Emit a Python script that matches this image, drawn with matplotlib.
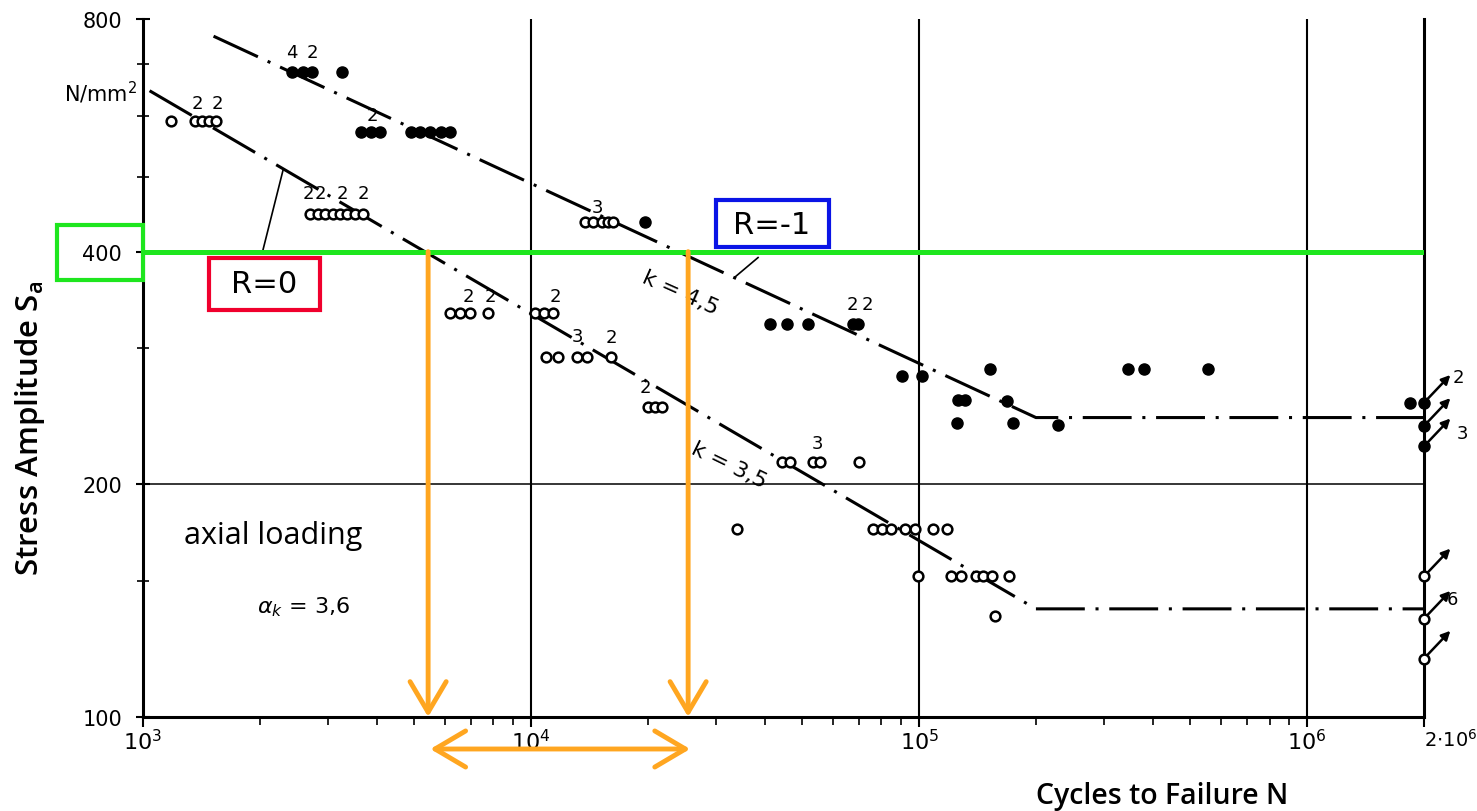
import numpy as np
import matplotlib.pyplot as plt
from matplotlib.patches import Rectangle
from matplotlib.transforms import offset_copy
from matplotlib.ticker import FixedLocator, NullFormatter

#===== data (N cycles, Sa in N/mm2)
# R=-1, broken (filled)
n_fill = [2420, 2590, 2730, 3260,
          3650, 3870, 4090, 4910, 5180, 5490, 5870, 6180,
          19700,
          41300, 45700, 51800, 67600, 69600,
          90400, 101800,
          152400, 345700, 380600, 555600,
          126000, 131400, 168700,
          125300, 174600, 228100,
          1840000]
s_fill = [683, 683, 683, 683,
          571, 571, 571, 571, 571, 571, 571, 571,
          437,
          322, 322, 322, 322, 322,
          276, 276,
          282, 282, 282, 282,
          257, 257, 256,
          240, 240, 239,
          255]

# group drawn hollow on the R=-1 line (label 3)
n_hollow_m1 = [13780, 14480, 15250, 15770, 16270]
s_hollow_m1 = [437, 437, 437, 437, 437]

# R=0, broken (open)
n_open = [1181, 1362, 1419, 1480, 1542,
          2694, 2825, 2944, 3089, 3222, 3358, 3519, 3687,
          6190, 6560, 6960, 7740,
          10230, 10810, 11400,
          10930, 11740, 13140, 13940, 16060,
          20020, 20880, 21780,
          44360, 46560, 53350, 55640, 70000,
          33970,
          76100, 80300, 84800, 92100, 97700, 108700, 118100,
          99400, 120800, 128200, 140300, 146400, 154300, 170500,
          157000]
s_open = [591, 591, 591, 591, 591,
          447, 447, 447, 447, 447, 447, 447, 447,
          333, 333, 333, 333,
          333, 333, 333,
          292, 292, 292, 292, 292,
          252, 252, 252,
          214, 214, 214, 214, 214,
          175,
          175, 175, 175, 175, 175, 175, 175,
          152, 152, 152, 152, 152, 152, 152,
          135]

# run-outs at 2e6
n_runout = 2.0e6
s_runout_fill = [255, 238, 224]
s_runout_open = [152, 134, 119]

# S-N curves
n_curve_m1 = [1520, 2.0e5, 2.0e6]
s_curve_m1 = [760, 244, 244]
n_curve_0 = [1040, 2.0e5, 2.0e6]
s_curve_0 = [646, 138, 138]

# small count labels (text, N, S)
count_labels = [('4', 2421, 725), ('2', 2727, 725), ('2', 3892, 601),
                ('3', 14800, 457), ('2', 67200, 342), ('2', 73500, 342),
                ('2', 1378, 623), ('2', 1551, 623),
                ('2', 2662, 477), ('2', 2860, 477), ('2', 3257, 477), ('2', 3690, 477),
                ('2', 6880, 351), ('2', 7840, 351), ('2', 11530, 351),
                ('3', 13140, 311), ('2', 16080, 310), ('2', 19670, 267),
                ('3', 54600, 226),
                ('2', 2.45e6, 275), ('3', 2.51e6, 233), ('6', 2.37e6, 142)]

# highlighted reading
s_level = 400
n_read_0 = 5430
n_read_m1 = 25400

x_ticks = [1e3, 1e4, 1e5, 1e6, 2e6]
x_ticklabels = ['$10^3$', '$10^4$', '$10^5$', '$10^6$', r'$2{\cdot}10^6$']
y_ticks = [100, 200, 400, 800]
y_minor = [150, 300, 500, 600, 700]

orange = '#FFA620'
green = '#1EE61E'
red = '#F0002D'
blue = '#0A14E6'

#===== figure
fig = plt.figure(figsize=(14.77, 8.12), dpi=100)
ax = fig.add_axes([0.0968, 0.1158, 0.8673, 0.8596])
ax.set_xscale('log')
ax.set_yscale('log')
ax.set_xlim(1e3, 2e6)
ax.set_ylim(100, 800)

for side in ['left', 'bottom', 'right']:
    ax.spines[side].set_linewidth(2.2)
ax.spines['top'].set_visible(False)

# grid lines of the original sheet
for xv in [1e4, 1e5, 1e6]:
    ax.axvline(xv, color='k', lw=1.5, zorder=1)
ax.axhline(200, color='k', lw=1.1, zorder=1)
ax.axhline(400, color='k', lw=1.1, zorder=1)

ax.xaxis.set_major_locator(FixedLocator(x_ticks))
ax.xaxis.set_minor_locator(FixedLocator([k * 10.0**e for e in [3, 4, 5] for k in range(2, 10)]))
ax.xaxis.set_minor_formatter(NullFormatter())
ax.set_xticklabels(x_ticklabels)
ax.yaxis.set_major_locator(FixedLocator(y_ticks))
ax.yaxis.set_minor_locator(FixedLocator(y_minor))
ax.yaxis.set_minor_formatter(NullFormatter())
ax.set_yticklabels([str(v) for v in y_ticks])
ax.tick_params(axis='x', which='major', direction='out', length=7, width=1.5, pad=1, labelsize=16)
ax.tick_params(axis='x', which='minor', direction='out', length=6, width=1.2)
ax.tick_params(axis='y', which='major', direction='inout', length=10, width=1.5, pad=10, labelsize=15)
ax.tick_params(axis='y', which='minor', direction='inout', length=8, width=1.2)
ax.tick_params(right=False, top=False, which='both')
lbls = ax.get_xticklabels()
lbls[-1].set_horizontalalignment('left')
lbls[-1].set_fontsize(14)

# curves
dd = (0, (16, 3.5, 1, 3.5))
ax.plot(n_curve_m1, s_curve_m1, color='k', lw=2.2, linestyle=dd, zorder=3)
ax.plot(n_curve_0, s_curve_0, color='k', lw=2.2, linestyle=dd, zorder=3)

# points
ax.plot(n_fill, s_fill, 'o', color='k', ms=8, zorder=4, clip_on=False)
ax.plot(n_hollow_m1, s_hollow_m1, 'o', mfc='white', mec='k', mew=1.8, ms=7, zorder=4)
ax.plot(n_open, s_open, 'o', mfc='white', mec='k', mew=1.8, ms=7, zorder=4)
ax.plot([n_runout] * 3, s_runout_fill, 'o', color='k', ms=8, zorder=5, clip_on=False)
ax.plot([n_runout] * 3, s_runout_open, 'o', mfc='white', mec='k', mew=1.8, ms=7, zorder=5, clip_on=False)

tr = offset_copy(ax.transData, fig=fig, x=19, y=20, units='points')
for s in s_runout_fill + s_runout_open:
    ax.annotate('', xy=(n_runout, s), xycoords=tr, xytext=(n_runout, s), textcoords='data',
                annotation_clip=False,
                arrowprops=dict(arrowstyle='-|>', color='k', lw=1.8, mutation_scale=13,
                                shrinkA=4, shrinkB=0))

for t, n, s in count_labels:
    ax.text(n, s, t, fontsize=13, ha='center', va='center', zorder=6, clip_on=False)

# curve labels
ax.text(24200, 355, 'k = 4,5', fontsize=16, rotation=-24, ha='center', va='center')
ax.text(32370, 212, 'k = 3,5', fontsize=16, rotation=-26, ha='center', va='center')
ax.plot([2296, 2038], [510, 402], color='k', lw=1.2)
ax.plot([38460, 33570], [393, 371], color='k', lw=1.2)

ax.text(2163, 172, 'axial loading', family='Open Sans', fontsize=22, ha='center', va='center')
ax.text(2585, 139, r'$\alpha_k$ = 3,6', fontsize=16, ha='center', va='center')
ax.annotate('N/mm$^2$', xy=(1e3, 644), xytext=(-4, 0), textcoords='offset points',
            ha='right', va='center', fontsize=15, annotation_clip=False)

# highlight boxes
ax.axhline(s_level, color=green, lw=3.6, zorder=7)
ax.add_patch(Rectangle((600, 368), 400, 65, fill=False, ec=green, lw=3, clip_on=False, zorder=7))
ax.add_patch(Rectangle((1479, 336.6), 1381, 56.4, fc='white', ec=red, lw=3, clip_on=False, zorder=7))
ax.text(2056, 364, 'R=0', fontsize=22, ha='center', va='center', zorder=8)
ax.add_patch(Rectangle((29980, 405), 28650, 62, fc='white', ec=blue, lw=3, clip_on=False, zorder=7))
ax.text(41800, 434, 'R=-1', fontsize=22, ha='center', va='center', zorder=8)

# orange reading arrows
arr = dict(arrowstyle='->,head_length=1.1,head_width=0.65', mutation_scale=20,
           color=orange, lw=3.5, shrinkA=0, shrinkB=0)
for nv in [n_read_0, n_read_m1]:
    ax.annotate('', xy=(nv, 100), xytext=(nv, s_level), arrowprops=arr, annotation_clip=False, zorder=8)
arr2 = dict(arr)
arr2['arrowstyle'] = '<->,head_length=1.1,head_width=0.65'
ax.annotate('', xy=(25700, 90.9), xytext=(5500, 90.9), arrowprops=arr2, annotation_clip=False, zorder=8)

fig.text(0.0200, 0.4729, r'Stress Amplitude $\mathregular{S_a}$', rotation=90, family='Open Sans',
         weight='semibold', fontsize=22.5, ha='center', va='center')
fig.text(0.7867, 0.0197, 'Cycles to Failure N', family='Open Sans', weight='semibold',
         fontsize=20.5, ha='center', va='center')

fig.savefig('out.png', dpi=100)
